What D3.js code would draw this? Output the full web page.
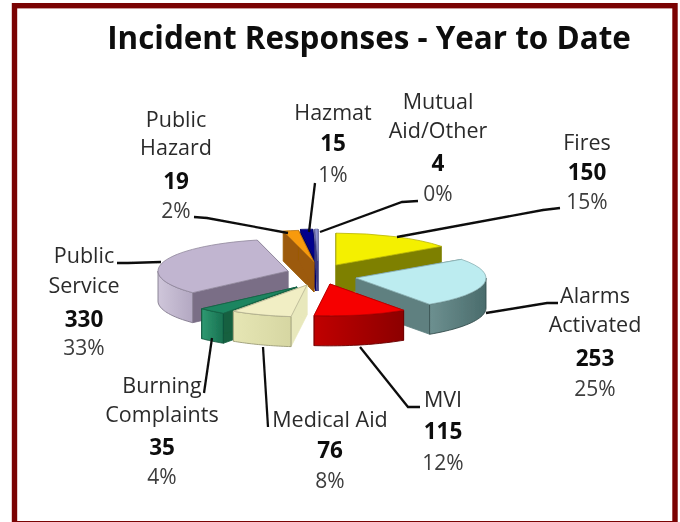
<!DOCTYPE html>
<html><head><meta charset="utf-8">
<script src="https://cdn.jsdelivr.net/npm/d3@7"></script>
<style>html,body{margin:0;padding:0;background:#fff}svg{display:block}
text{font-family:"Open Sans","Noto Sans",sans-serif}</style></head><body>
<div id="chart"></div>
<script>
// ---- data ----
const categories = ["Fires","Alarms Activated","MVI","Medical Aid","Burning Complaints","Public Service","Public Hazard","Hazmat","Mutual Aid/Other"];
const values = [150,253,115,76,35,330,19,15,4];
const percentLabels = ["15%","25%","12%","8%","4%","33%","2%","1%","0%"];
const labelLines = [["Fires"],["Alarms","Activated"],["MVI"],["Medical Aid"],["Burning","Complaints"],["Public","Service"],["Public","Hazard"],["Hazmat"],["Mutual","Aid/Other"]];
const chartTitle = "Incident Responses - Year to Date";

// ---- styles and layout ----
const topColors  = ["#f4f000","#bcecf0","#f60000","#f1eec4","#1f8560","#c1b5d0","#f79a0c","#00008e","#8e92d2"];
const rimColors  = [["#808000","#808000"],["#6d9090","#4a6c6c"],["#c00000","#8c0000"],["#e6e6b4","#d6d6a2"],["#2f9a72","#187050"],["#cfc6da","#b3a8c2"],["#9c5a08","#9c5a08"],["#00006e","#00006e"],["#3a3a80","#3a3a80"]];
const faceColors = ["#7e8000","#5e8080","#b80000","#e8e8bc","#14603f","#7a6e86","#9c5a08","#00006e","#3a3a80"];
const apex = [[336,265],[356,278],[330,284],[307,285],[297,287],[288,271],[314,262],[316,261],[318,261]];
const drawOrder = [0,5,7,8,6,1,4,3,2];
const R = 130, squash = 0.245, depth = 30;
const labelPos = [
 {x:587,y:[150,180,209]},
 {x:595,y:[303,332,366,396]},
 {x:443,y:[407,439,470]},
 {x:330,y:[427,458,488]},
 {x:162,y:[393,422,455,484]},
 {x:84,y:[263,293,327,355]},
 {x:176,y:[127,155,189,218]},
 {x:333,y:[120,151,182]},
 {x:438,y:[109,138,171,201]}];
const leaders = [
 [[560,208],[543,210],[397,237]],
 [[558,303],[547,303],[486,313]],
 [[420,407],[408,407],[360,347]],
 [[268,427],[263,347]],
 [[204,393],[212,338]],
 [[117,263],[128,263],[161,262]],
 [[194,217],[207,218],[288,233]],
 [[315,183],[309,232]],
 [[418,201],[402,202],[320,232]]];

const W = 680, H = 522;
const svg = d3.select("#chart").append("svg").attr("width",W).attr("height",H);
svg.append("rect").attr("width",W).attr("height",H).attr("fill","#fff");
const defs = svg.append("defs");
const soft = defs.append("filter").attr("id","soft").attr("x","-5%").attr("y","-5%").attr("width","110%").attr("height","110%");
soft.append("feGaussianBlur").attr("stdDeviation",0.55);
const softText = defs.append("filter").attr("id","softText");
softText.append("feGaussianBlur").attr("stdDeviation",0.35);

svg.append("rect").attr("x",14.5).attr("y",5.7).attr("width",660.5).attr("height",518)
  .attr("fill","none").attr("stroke","#7a0303").attr("stroke-width",5.4);

svg.append("text").attr("x",369).attr("y",49).attr("text-anchor","middle")
  .attr("font-size",31.4).attr("font-weight",700).attr("fill","#0c0c0c").attr("filter","url(#softText)").text(chartTitle);

const arcs = d3.pie().sort(null).value(d=>d)(values);
const arcGen = d3.arc().innerRadius(0).outerRadius(R);
const rimLine = d3.line();
const HALF = Math.PI/2;
const pt = (c,a,dz=0)=>[c[0]+R*Math.sin(a), c[1]-R*squash*Math.cos(a)+dz];

const pieG = svg.append("g").attr("filter","url(#soft)");
drawOrder.forEach(i=>{
  const a = arcs[i], c = apex[i];
  const g = pieG.append("g");
  const gradId = "rim"+i;
  const gr = defs.append("linearGradient").attr("id",gradId);
  gr.append("stop").attr("offset","0%").attr("stop-color",rimColors[i][0]);
  gr.append("stop").attr("offset","100%").attr("stop-color",rimColors[i][1]);
  // cut faces
  [a.startAngle,a.endAngle].forEach(t=>{
    g.append("path").attr("d",rimLine([c,pt(c,t),pt(c,t,depth),[c[0],c[1]+depth]])+"Z")
      .attr("fill",faceColors[i]).attr("stroke",faceColors[i]).attr("stroke-width",0.8);
  });
  // outer rim
  const r0 = Math.max(a.startAngle,HALF), r1 = Math.min(a.endAngle,3*HALF);
  if(r1>r0){
    const steps = d3.range(0,25).map(k=>r0+(r1-r0)*k/24);
    const pts = steps.map(t=>pt(c,t)).concat(steps.slice().reverse().map(t=>pt(c,t,depth)));
    g.append("path").attr("d",rimLine(pts)+"Z").attr("fill",`url(#${gradId})`)
      .attr("stroke",d3.color(rimColors[i][1]).darker(0.9)).attr("stroke-width",0.9);
  }
  // top
  g.append("path").attr("transform",`translate(${c[0]},${c[1]}) scale(1,${squash})`)
    .attr("d",arcGen(a)).attr("fill",topColors[i])
    .attr("stroke",d3.color(topColors[i]).darker(0.8)).attr("stroke-width",0.8)
    .attr("vector-effect","non-scaling-stroke");
});

const polyline = d3.line();
svg.append("g").attr("filter","url(#softText)").selectAll("path").data(leaders).join("path")
  .attr("d",d=>polyline(d)).attr("fill","none").attr("stroke","#111").attr("stroke-width",2.3);

const labelG = svg.append("g").attr("filter","url(#softText)");
categories.forEach((cat,i)=>{
  const lines = labelLines[i].map(t=>({t,w:400,f:"#2c2c2c",s:21.5}))
    .concat([{t:String(values[i]),w:700,f:"#111",s:22.5},{t:percentLabels[i],w:400,f:"#3c3c3c",s:21}]);
  lines.forEach((l,k)=>{
    labelG.append("text").attr("x",labelPos[i].x).attr("y",labelPos[i].y[k])
      .attr("text-anchor","middle").attr("font-size",l.s).attr("font-weight",l.w).attr("fill",l.f).text(l.t);
  });
});
</script></body></html>
